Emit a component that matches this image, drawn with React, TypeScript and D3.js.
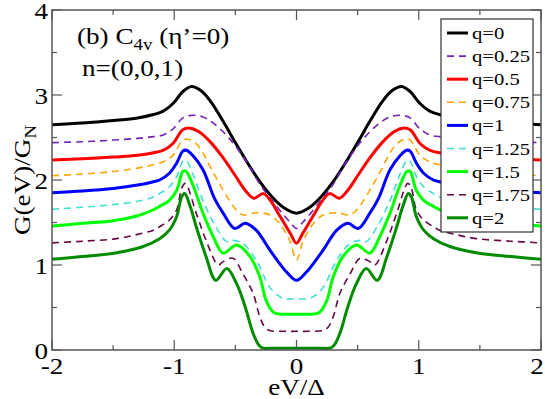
import React from "react";
import * as d3 from "d3";

// ---- data (right half, x >= 0; curves are symmetric in eV/Δ) ----
const q0X = [0, 0.1, 0.2, 0.3, 0.4, 0.5, 0.6, 0.7, 0.78, 0.86, 0.93, 1.01, 1.09, 1.17, 1.3, 1.5, 1.75, 2];
const q0Y = [1.61, 1.67, 1.8, 1.98, 2.2, 2.44, 2.69, 2.92, 3.05, 3.1, 3.04, 2.9, 2.81, 2.77, 2.73, 2.7, 2.67, 2.65];

const q025X = [0, 0.05, 0.1, 0.2, 0.3, 0.41, 0.55, 0.68, 0.77, 0.86, 0.93, 1.01, 1.09, 1.17, 1.3, 1.5, 1.75, 2];
const q025Y = [1.43, 1.5, 1.58, 1.76, 1.95, 2.22, 2.49, 2.67, 2.745, 2.76, 2.73, 2.6, 2.53, 2.51, 2.49, 2.47, 2.45, 2.44];

const q05X = [0, 0.05, 0.1, 0.15, 0.2, 0.27, 0.35, 0.42, 0.5, 0.6, 0.7, 0.8, 0.87, 0.93, 1.01, 1.09, 1.17, 1.3, 1.5, 1.75, 2];
const q05Y = [1.255, 1.37, 1.49, 1.61, 1.73, 1.84, 1.785, 1.88, 2.05, 2.26, 2.44, 2.57, 2.61, 2.59, 2.43, 2.35, 2.32, 2.29, 2.27, 2.25, 2.235];

const q075X = [0, 0.056, 0.14, 0.22, 0.33, 0.44, 0.5, 0.6, 0.7, 0.77, 0.83, 0.89, 0.93, 1.01, 1.09, 1.17, 1.3, 1.5, 1.75, 2];
const q075Y = [1.06, 1.29, 1.49, 1.59, 1.615, 1.59, 1.66, 1.88, 2.14, 2.33, 2.44, 2.48, 2.47, 2.29, 2.215, 2.18, 2.14, 2.1, 2.07, 2.05];

const q1X = [0, 0.083, 0.15, 0.22, 0.33, 0.42, 0.505, 0.6, 0.67, 0.765, 0.85, 0.9, 0.93, 0.98, 1.04, 1.12, 1.17, 1.3, 1.5, 1.75, 2];
const q1Y = [0.82, 0.92, 1.04, 1.18, 1.41, 1.49, 1.43, 1.61, 1.78, 2.12, 2.29, 2.35, 2.34, 2.2, 2.08, 2.0, 1.98, 1.94, 1.9, 1.87, 1.85];

const q125X = [0, 0.1, 0.14, 0.22, 0.33, 0.44, 0.52, 0.57, 0.66, 0.765, 0.85, 0.906, 0.93, 0.98, 1.04, 1.12, 1.17, 1.3, 1.5, 1.75, 2];
const q125Y = [0.6, 0.605, 0.63, 0.74, 1.06, 1.255, 1.29, 1.275, 1.45, 1.76, 2.08, 2.235, 2.22, 2.04, 1.92, 1.84, 1.8, 1.75, 1.71, 1.68, 1.655];

const q15X = [0, 0.1, 0.17, 0.2, 0.25, 0.3, 0.38, 0.49, 0.6, 0.68, 0.765, 0.85, 0.906, 0.93, 0.98, 1.04, 1.12, 1.17, 1.3, 1.5, 1.75, 2];
const q15Y = [0.42, 0.42, 0.43, 0.46, 0.59, 0.86, 1.1, 1.235, 1.14, 1.33, 1.61, 1.95, 2.106, 2.1, 1.88, 1.76, 1.69, 1.65, 1.58, 1.52, 1.49, 1.46];

const q175X = [0, 0.1, 0.22, 0.26, 0.3, 0.356, 0.44, 0.52, 0.6, 0.64, 0.74, 0.82, 0.91, 0.94, 0.98, 1.04, 1.12, 1.17, 1.3, 1.47, 1.75, 2];
const q175Y = [0.22, 0.22, 0.23, 0.27, 0.39, 0.67, 0.9, 1.08, 1.04, 1.0, 1.29, 1.61, 1.96, 1.9, 1.65, 1.53, 1.45, 1.41, 1.36, 1.31, 1.28, 1.26];

const q2X = [0, 0.1, 0.2, 0.28, 0.31, 0.356, 0.42, 0.49, 0.57, 0.66, 0.74, 0.82, 0.87, 0.915, 0.94, 0.98, 1.04, 1.12, 1.26, 1.47, 1.75, 2];
const q2Y = [0.02, 0.02, 0.02, 0.025, 0.06, 0.2, 0.51, 0.78, 0.96, 0.82, 1.1, 1.45, 1.69, 1.84, 1.8, 1.57, 1.41, 1.31, 1.215, 1.145, 1.1, 1.067];

const seriesLabels = ["q=0", "q=0.25", "q=0.5", "q=0.75", "q=1", "q=1.25", "q=1.5", "q=1.75", "q=2"];
const seriesX = [q0X, q025X, q05X, q075X, q1X, q125X, q15X, q175X, q2X];
const seriesY = [q0Y, q025Y, q05Y, q075Y, q1Y, q125Y, q15Y, q175Y, q2Y];
const seriesColors = ["#000000", "#7221bc", "#ff0000", "#ffa500", "#0000ff", "#40e0d0", "#00ff00", "#670748", "#008b00"];
const seriesDashed = [false, true, false, true, false, true, false, true, false];

const xMajorTicks = [-2, -1, 0, 1, 2];
const xMinorTicks = [-1.5, -0.5, 0.5, 1.5];
const yMajorTicks = [0, 1, 2, 3, 4];
const yMinorTicks = [0.5, 1.5, 2.5, 3.5];

// ---- layout ----
const W = 545;
const H = 399;
const L = 52, R = 541, T = 10, B = 350;
const SX = 1.18;
const FONT = "'Liberation Serif', 'Times New Roman', Times, serif";

function mirror(xs: number[], ys: number[]): [number, number][] {
  const pts: [number, number][] = [];
  for (let i = xs.length - 1; i > 0; i--) pts.push([-xs[i], ys[i]]);
  for (let i = 0; i < xs.length; i++) pts.push([xs[i], ys[i]]);
  return pts;
}

function Txt(props: { x: number; y: number; size: number; anchor?: string; rotate?: number; children: any }) {
  const { x, y, size, anchor = "start", rotate = 0, children } = props;
  return (
    <text
      transform={`translate(${x},${y}) rotate(${rotate}) scale(${SX},1)`}
      textAnchor={anchor}
      fontSize={size}
      fontFamily={FONT}
      fill="#000"
    >
      {children}
    </text>
  );
}

export default function App() {
  const xs = d3.scaleLinear().domain([-2, 2]).range([L, R]);
  const ys = d3.scaleLinear().domain([0, 4]).range([B, T]);
  const line = d3
    .line<[number, number]>()
    .x((d) => xs(d[0]))
    .y((d) => ys(d[1]))
    .curve(d3.curveCatmullRom.alpha(0.5));

  const axisColor = "#555";
  const major = 10;
  const minor = 5;

  const legX = 441, legY = 19, legW = 92, legH = 213;
  const legStep = 23.1;

  return (
    <svg width={W} height={H} style={{ position: "absolute", left: 0, top: 0, background: "#fff" }}>
      <rect x={0} y={0} width={W} height={H} fill="#fff" />
      {/* curves */}
      {seriesX.map((sx, i) => (
        <path
          key={i}
          d={line(mirror(sx, seriesY[i])) || ""}
          fill="none"
          stroke={seriesColors[i]}
          strokeWidth={seriesDashed[i] ? 1.6 : 3}
          strokeDasharray={seriesDashed[i] ? "7,5" : undefined}
          strokeLinejoin="round"
        />
      ))}
      {/* frame */}
      <rect x={L} y={T} width={R - L} height={B - T} fill="none" stroke={axisColor} strokeWidth={1.5} />
      {/* ticks */}
      {xMajorTicks.map((t) => (
        <g key={"xM" + t}>
          <line x1={xs(t)} x2={xs(t)} y1={B} y2={B - major} stroke={axisColor} strokeWidth={1.2} />
          <line x1={xs(t)} x2={xs(t)} y1={T} y2={T + major} stroke={axisColor} strokeWidth={1.2} />
        </g>
      ))}
      {xMinorTicks.map((t) => (
        <g key={"xm" + t}>
          <line x1={xs(t)} x2={xs(t)} y1={B} y2={B - minor} stroke={axisColor} strokeWidth={1.2} />
          <line x1={xs(t)} x2={xs(t)} y1={T} y2={T + minor} stroke={axisColor} strokeWidth={1.2} />
        </g>
      ))}
      {yMajorTicks.map((t) => (
        <g key={"yM" + t}>
          <line x1={L} x2={L + major} y1={ys(t)} y2={ys(t)} stroke={axisColor} strokeWidth={1.2} />
          <line x1={R} x2={R - major} y1={ys(t)} y2={ys(t)} stroke={axisColor} strokeWidth={1.2} />
        </g>
      ))}
      {yMinorTicks.map((t) => (
        <g key={"ym" + t}>
          <line x1={L} x2={L + minor} y1={ys(t)} y2={ys(t)} stroke={axisColor} strokeWidth={1.2} />
          <line x1={R} x2={R - minor} y1={ys(t)} y2={ys(t)} stroke={axisColor} strokeWidth={1.2} />
        </g>
      ))}
      {/* tick labels */}
      {xMajorTicks.map((t) => (
        <Txt key={"xl" + t} x={Math.min(xs(t), W - 8)} y={B + 24} size={23} anchor="middle">
          {String(t)}
        </Txt>
      ))}
      {yMajorTicks.map((t) => (
        <Txt key={"yl" + t} x={L - 4} y={ys(t) + 9} size={23} anchor="end">
          {String(t)}
        </Txt>
      ))}
      {/* axis labels */}
      <Txt x={(L + R) / 2} y={395} size={23} anchor="middle">
        eV/Δ
      </Txt>
      <Txt x={30} y={(T + B) / 2} size={23} anchor="middle" rotate={-90}>
        G(eV)/G<tspan fontSize={16} dy={6}>N</tspan>
      </Txt>
      {/* annotations */}
      <Txt x={77} y={44} size={23}>
        (b) C<tspan fontSize={16} dy={6}>4v</tspan>
        <tspan dy={-6}> (η’=0)</tspan>
      </Txt>
      <Txt x={82} y={76} size={23}>
        n=(0,0,1)
      </Txt>
      {/* legend */}
      <rect x={legX} y={legY} width={legW} height={legH} fill="#fff" stroke="#333" strokeWidth={1.2} />
      {seriesLabels.map((lab, i) => {
        const y = legY + 14 + i * legStep;
        return (
          <g key={"lg" + i}>
            <line
              x1={447}
              x2={468}
              y1={y}
              y2={y}
              stroke={seriesColors[i]}
              strokeWidth={seriesDashed[i] ? 1.6 : 3}
              strokeDasharray={seriesDashed[i] ? "7,5" : undefined}
            />
            <Txt x={472} y={y + 6} size={17.5}>
              {lab}
            </Txt>
          </g>
        );
      })}
    </svg>
  );
}
